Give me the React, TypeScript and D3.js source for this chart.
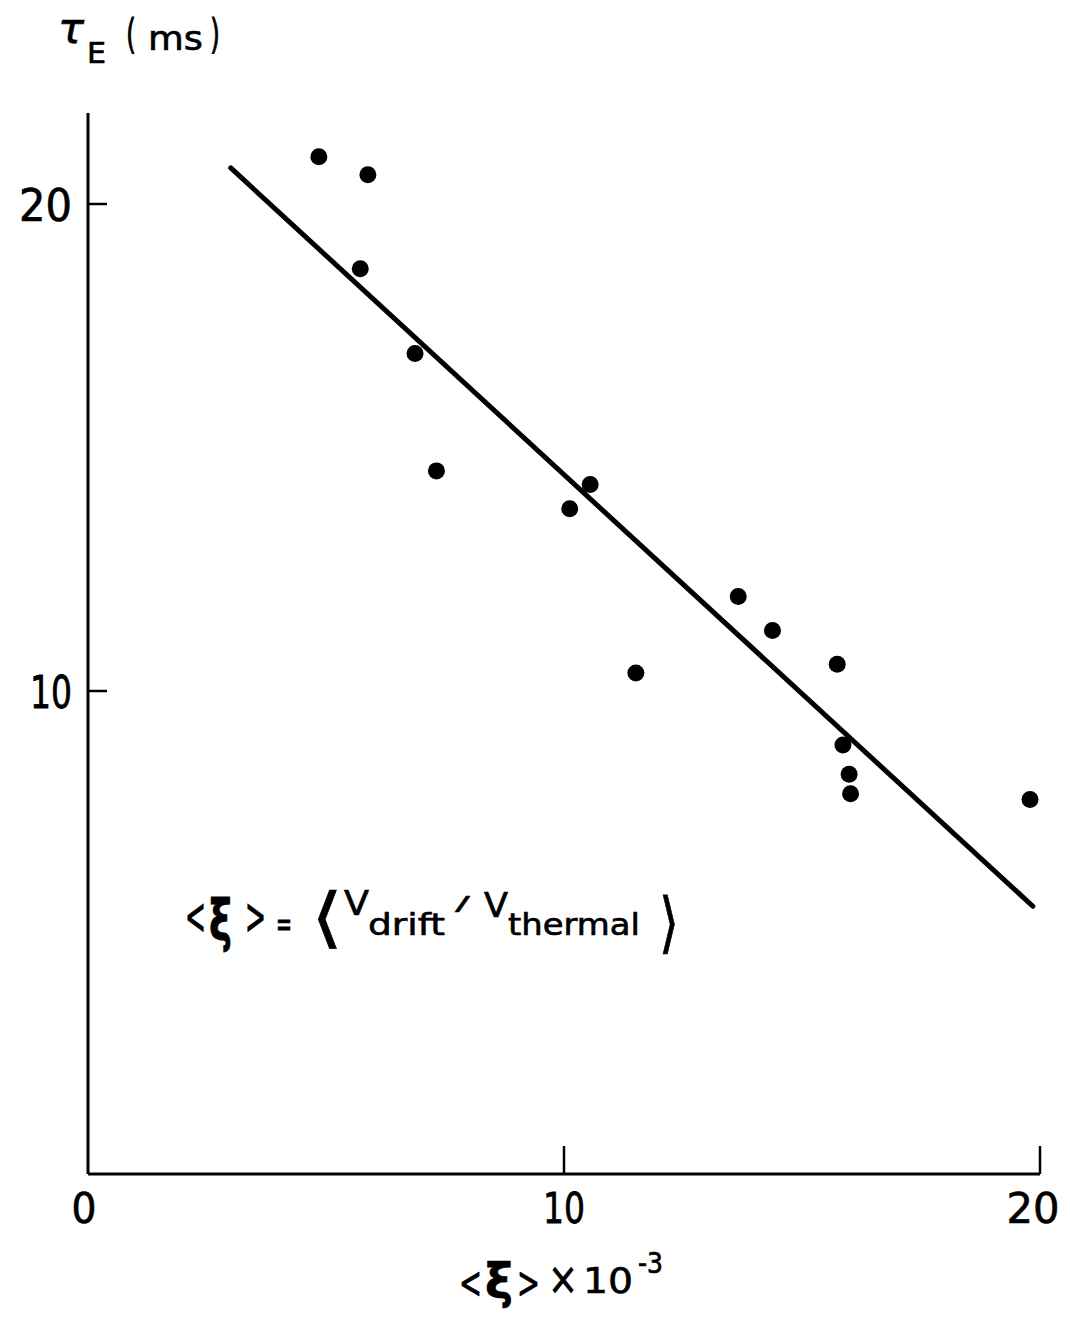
import React, { useLayoutEffect, useRef, useState } from "react";
import * as d3 from "d3";

const xiValues = [4.85, 5.88, 5.72, 6.87, 7.32, 10.12, 10.55, 11.51, 13.66, 14.38, 15.74, 15.86, 15.99, 16.02, 19.79];
const tauValues = [20.97, 20.6, 18.67, 16.93, 14.52, 13.74, 14.24, 10.37, 11.94, 11.24, 10.55, 8.89, 8.29, 7.89, 7.77];
const fitX = [3.0, 19.85];
const fitY = [20.74, 5.58];
const xTicks = [0, 10, 20];
const yTicks = [10, 20];

const W = 1070;
const H = 1317;
const FONT = "'DejaVu Sans', sans-serif";

type TP = {
  x: number;
  y: number;
  w: number;
  fs: number;
  children: React.ReactNode;
  italic?: boolean;
  bold?: boolean;
  anchor?: "start" | "middle" | "end";
};

function T({ x, y, w, fs, children, italic, bold, anchor }: TP) {
  const ref = useRef<SVGTextElement>(null);
  const [sx, setSx] = useState(1);
  useLayoutEffect(() => {
    const el = ref.current;
    if (!el) return;
    const n = el.getComputedTextLength();
    if (n > 0) setSx(w / n);
  }, [w, fs, children]);
  return (
    <text
      ref={ref}
      transform={`translate(${x},${y}) scale(${sx},1)`}
      x={0}
      y={0}
      fontSize={fs}
      fontStyle={italic ? "italic" : "normal"}
      fontWeight={bold ? "bold" : "normal"}
      textAnchor={anchor || "start"}
      fill="#000"
      stroke="#000"
      strokeWidth={0.7}
      vectorEffect="non-scaling-stroke"
      fontFamily={FONT}
    >
      {children}
    </text>
  );
}

export default function App() {
  const x = d3.scaleLinear().domain([0, 20]).range([88, 1040]);
  const y = d3.scaleLinear().domain([0, 20]).range([1178, 204]);
  const axisY = 1174;
  const line = d3.line<number>().x((d) => x(fitX[d])).y((d) => y(fitY[d]));
  const pts = xiValues.map((v, i) => ({ x: v, y: tauValues[i] }));
  const tickW = (s: string) => (s === "0" ? 25 : s === "10" ? 42 : 53);

  return (
    <svg width={W} height={H} style={{ position: "absolute", left: 0, top: 0, background: "#fff" }}>
      <rect width={W} height={H} fill="#fff" />
      {/* axes */}
      <line x1={88} y1={113} x2={88} y2={axisY} stroke="#000" strokeWidth={3} />
      <line x1={88} y1={axisY} x2={x(20)} y2={axisY} stroke="#000" strokeWidth={3} />
      {yTicks.map((t) => (
        <g key={"y" + t}>
          <line x1={88} x2={107} y1={y(t)} y2={y(t)} stroke="#000" strokeWidth={2.5} />
          <T x={72} y={y(t) + 17} w={tickW(String(t))} fs={44} anchor="end">
            {String(t)}
          </T>
        </g>
      ))}
      {xTicks.map((t) => (
        <g key={"x" + t}>
          {t > 0 && <line x1={x(t)} x2={x(t)} y1={axisY} y2={axisY - 28} stroke="#000" strokeWidth={2.5} />}
          <T x={x(t) - (t === 0 ? 4 : t === 20 ? 7 : 0)} y={1223} w={tickW(String(t))} fs={42} anchor="middle">
            {String(t)}
          </T>
        </g>
      ))}
      {/* fit line */}
      <path d={line([0, 1]) || ""} stroke="#000" strokeWidth={5} fill="none" strokeLinecap="round" />
      {/* points */}
      {pts.map((p, i) => (
        <circle key={i} cx={x(p.x)} cy={y(p.y)} r={8.5} fill="#000" />
      ))}
      {/* y title */}
      <T x={58} y={43} w={26} fs={42} italic>τ</T>
      <T x={87} y={63} w={19} fs={28}>E</T>
      <T x={126} y={48} w={10} fs={40}>(</T>
      <T x={148} y={50} w={55} fs={34}>ms</T>
      <T x={210} y={48} w={10} fs={40}>)</T>
      {/* equation */}
      <T x={185} y={934} w={21} fs={52}>&lt;</T>
      <T x={209} y={940} w={23} fs={56} bold>ξ</T>
      <T x={245} y={934} w={21} fs={52}>&gt;</T>
      <T x={276} y={936} w={16} fs={36}>=</T>
      <T x={311} y={940} w={32} fs={66}>⟨</T>
      <T x={344} y={915} w={25} fs={33}>V</T>
      <T x={368} y={935} w={77} fs={31}>drift</T>
      <T x={455} y={910} w={15} fs={20}>/</T>
      <T x={484} y={917} w={24} fs={33}>V</T>
      <T x={508} y={935} w={132} fs={31}>thermal</T>
      <T x={659} y={945} w={20} fs={66}>⟩</T>
      {/* x title */}
      <T x={459} y={1298} w={23} fs={44}>&lt;</T>
      <T x={485} y={1298} w={28} fs={48} bold>ξ</T>
      <T x={517} y={1298} w={23} fs={44}>&gt;</T>
      <T x={548} y={1294} w={30} fs={44}>×</T>
      <T x={583} y={1293} w={50} fs={36}>10</T>
      <T x={638} y={1273} w={25} fs={28}>-3</T>
    </svg>
  );
}
